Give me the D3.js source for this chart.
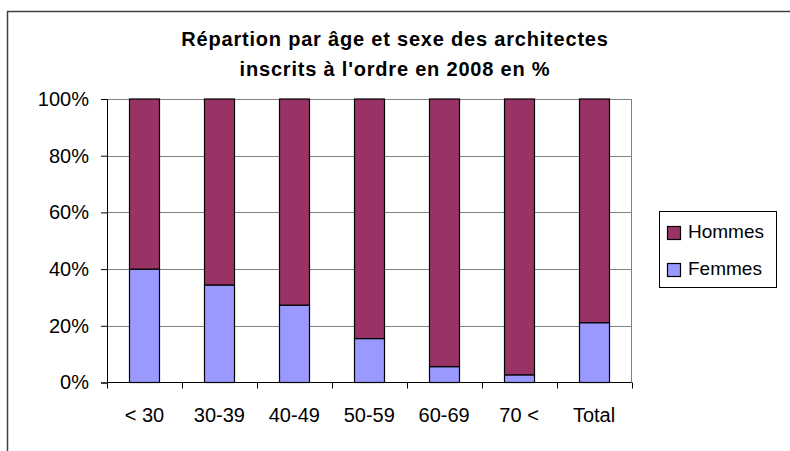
<!DOCTYPE html>
<html>
<head>
<meta charset="utf-8">
<script src="https://cdn.jsdelivr.net/npm/d3@7"></script>
<style>
  body { margin: 0; background: #fff; }
  text { font-family: "Liberation Sans", Arial, sans-serif; fill: #000; }
</style>
</head>
<body>
<div id="chart"></div>
<script>
// data (share of women, men make up the rest)
var categories = ["< 30", "30-39", "40-49", "50-59", "60-69", "70 <", "Total"];
var femmes = [40.0, 34.4, 27.3, 15.5, 5.6, 2.7, 21.1];
var hommes = [60.0, 65.6, 72.7, 84.5, 94.4, 97.3, 78.9];
var seriesNames = ["Hommes", "Femmes"];
var seriesColors = ["#993366", "#9999FF"];
var yTicks = [0, 20, 40, 60, 80, 100];

var svg = d3.select("#chart").append("svg")
    .attr("width", 790)
    .attr("height", 451);

// outer chart frame (runs off the right and bottom of the window)
svg.append("rect")
    .attr("x", 7.5)
    .attr("y", 11.5)
    .attr("width", 820)
    .attr("height", 480)
    .attr("fill", "none")
    .attr("stroke", "#404040")
    .attr("stroke-width", 1.5);

// title
var title = svg.append("text")
    .attr("text-anchor", "middle")
    .style("font-weight", "bold")
    .style("font-size", "20px")
    .style("letter-spacing", "0.8px");
title.append("tspan").attr("x", 395).attr("y", 46).text("Répartion par âge et sexe des architectes");
title.append("tspan").attr("x", 395).attr("y", 76).text("inscrits à l'ordre en 2008 en %");

var plotLeft = 107, plotRight = 631.5, plotTop = 99, plotBottom = 382.5;

var x = d3.scaleBand()
    .domain(categories)
    .range([plotLeft, plotRight])
    .paddingInner(0.6)
    .paddingOuter(0.3);

var y = d3.scaleLinear()
    .domain([0, 100])
    .range([plotBottom, plotTop]);

// gridlines
svg.append("g")
  .selectAll("line")
  .data(yTicks.slice(1))
  .join("line")
    .attr("x1", plotLeft)
    .attr("x2", plotRight)
    .attr("y1", d => Math.round(y(d)) + 0.5)
    .attr("y2", d => Math.round(y(d)) + 0.5)
    .attr("stroke", "#808080");

// plot area right edge
svg.append("line")
    .attr("x1", plotRight).attr("x2", plotRight)
    .attr("y1", plotTop).attr("y2", plotBottom)
    .attr("stroke", "#808080");

// stacked bars
var rows = categories.map((c, i) => ({cat: c, Femmes: femmes[i], Hommes: hommes[i]}));
var stack = d3.stack().keys(["Femmes", "Hommes"])(rows);

svg.append("g")
  .selectAll("g")
  .data(stack)
  .join("g")
    .attr("fill", d => seriesColors[seriesNames.indexOf(d.key)])
  .selectAll("rect")
  .data(d => d)
  .join("rect")
    .attr("x", d => Math.round(x(d.data.cat)) + 0.5)
    .attr("width", Math.round(x.bandwidth()))
    .attr("y", d => y(d[1]))
    .attr("height", d => y(d[0]) - y(d[1]))
    .attr("stroke", "#000")
    .attr("stroke-width", 1.2);

// y axis
var yAxis = svg.append("g")
    .attr("transform", "translate(" + plotLeft + ",0)")
    .call(d3.axisLeft(y).tickValues(yTicks).tickSize(6).tickPadding(12).tickFormat(d => d + "%"));
yAxis.select(".domain").attr("stroke", "#000");
yAxis.selectAll("text").style("font-size", "20px").attr("font-family", null);

// x axis with ticks on category boundaries
var xAxis = svg.append("g")
    .attr("transform", "translate(0," + plotBottom + ")");
xAxis.append("line")
    .attr("x1", plotLeft).attr("x2", plotRight)
    .attr("stroke", "#000");
var step = x.step();
xAxis.selectAll(".tk")
  .data(d3.range(categories.length + 1))
  .join("line")
    .attr("class", "tk")
    .attr("x1", i => Math.round(plotLeft + i * step) + 0.5)
    .attr("x2", i => Math.round(plotLeft + i * step) + 0.5)
    .attr("y1", 0).attr("y2", 6)
    .attr("stroke", "#000");
xAxis.selectAll("text")
  .data(categories)
  .join("text")
    .attr("x", d => x(d) + x.bandwidth() / 2)
    .attr("y", 39)
    .attr("text-anchor", "middle")
    .style("font-size", "20px")
    .text(d => d);

// legend
var legend = svg.append("g");
legend.append("rect")
    .attr("x", 659.5).attr("y", 211.5)
    .attr("width", 117).attr("height", 76)
    .attr("fill", "#fff")
    .attr("stroke", "#000");
var items = legend.selectAll("g")
  .data(seriesNames)
  .join("g")
    .attr("transform", (d, i) => "translate(667," + (226 + i * 37) + ")");
items.append("rect")
    .attr("x", 0.5).attr("y", 0.5)
    .attr("width", 13).attr("height", 13)
    .attr("fill", (d, i) => seriesColors[i])
    .attr("stroke", "#000")
    .attr("stroke-width", 1.2);
items.append("text")
    .attr("x", 21)
    .attr("y", 12)
    .style("font-size", "19px")
    .text(d => d);
</script>
</body>
</html>
